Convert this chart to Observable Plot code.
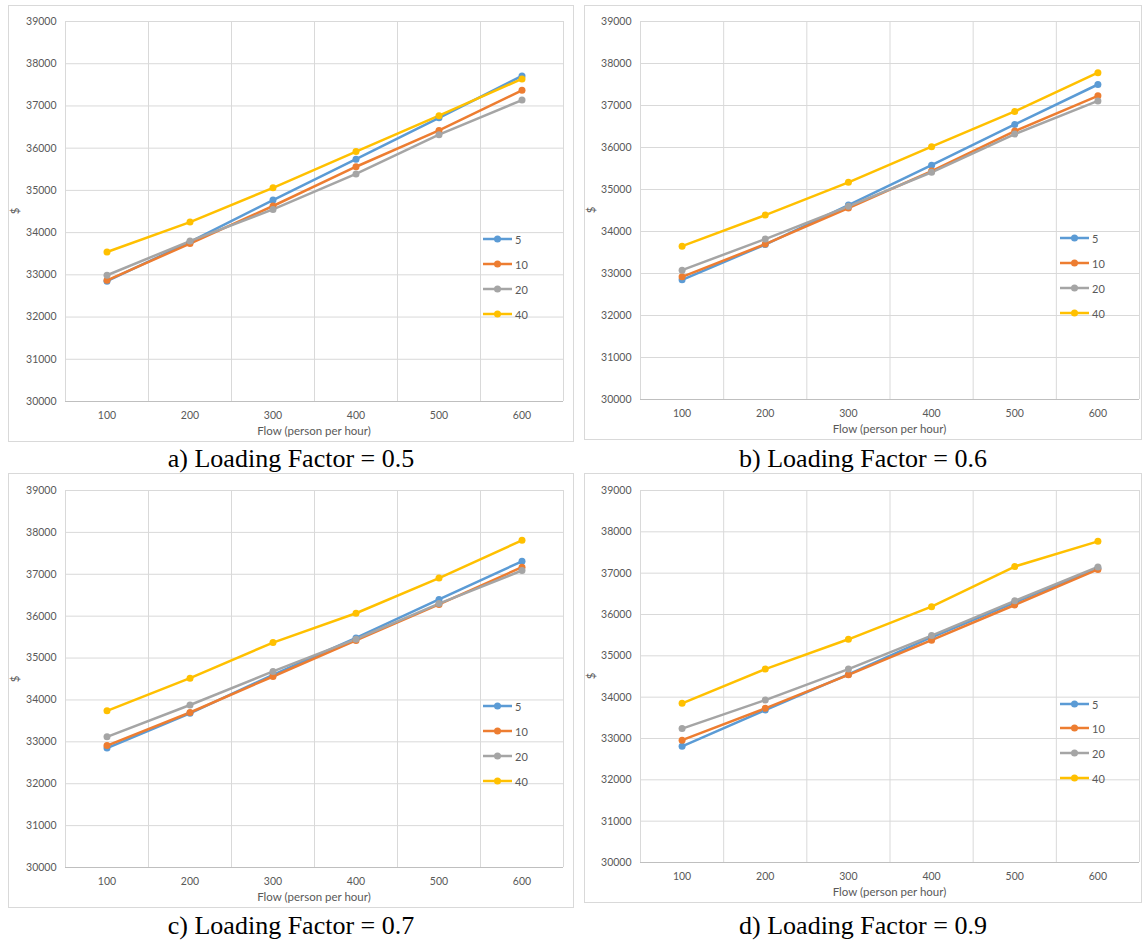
<!DOCTYPE html>
<html>
<head>
<meta charset="utf-8">
<script src="https://cdn.jsdelivr.net/npm/d3@7"></script>
<script src="https://cdn.jsdelivr.net/npm/@observablehq/plot@0.6"></script>
<style>
  html, body { margin: 0; padding: 0; background: #fff; }
  #page { position: relative; width: 1143px; height: 941px; background: #fff; overflow: hidden; }
  .panel { position: absolute; }
  .frame { position: absolute; left: 0; top: 0; right: 0; bottom: 0; border: 1px solid #d9d9d9; box-sizing: border-box; }
  .panel svg.plot { position: absolute; left: 0; top: 0; }
  .lbl { position: absolute; font-family: Lato, "Open Sans", sans-serif; font-size: 11.5px; color: #595959; white-space: nowrap; line-height: 1; }
  .cap { position: absolute; font-family: "Liberation Serif", "DejaVu Serif", serif; font-size: 26px; color: #000; white-space: nowrap; line-height: 1; transform: translate(-50%, -50%); }
  .leg { position: absolute; display: flex; align-items: center; font-family: Lato, "Open Sans", sans-serif; font-size: 11px; color: #595959; line-height: 1; }
</style>
</head>
<body>
<div id="page"></div>
<script>
// ---- data ----
const flows = [100, 200, 300, 400, 500, 600];
const seriesNames = ["5", "10", "20", "40"];
const seriesColors = ["#5B9BD5", "#ED7D31", "#A5A5A5", "#FFC000"];
const yTicks = [30000, 31000, 32000, 33000, 34000, 35000, 36000, 37000, 38000, 39000];
const captions = ["a) Loading Factor = 0.5", "b) Loading Factor = 0.6", "c) Loading Factor = 0.7", "d) Loading Factor = 0.9"];
const xTitle = "Flow (person per hour)";
const yTitle = "$";

// Loading factor 0.5
const a5  = [32850, 33780, 34770, 35740, 36720, 37710];
const a10 = [32870, 33740, 34630, 35560, 36420, 37370];
const a20 = [32990, 33800, 34550, 35390, 36320, 37140];
const a40 = [33540, 34250, 35060, 35920, 36770, 37640];
// Loading factor 0.6
const b5  = [32850, 33690, 34630, 35580, 36550, 37500];
const b10 = [32920, 33700, 34560, 35440, 36390, 37230];
const b20 = [33080, 33820, 34600, 35410, 36320, 37110];
const b40 = [33650, 34390, 35170, 36020, 36860, 37780];
// Loading factor 0.7
const c5  = [32850, 33680, 34600, 35480, 36400, 37310];
const c10 = [32910, 33700, 34560, 35420, 36280, 37170];
const c20 = [33120, 33880, 34680, 35450, 36300, 37090];
const c40 = [33740, 34520, 35370, 36070, 36910, 37810];
// Loading factor 0.9
const d5  = [32810, 33690, 34550, 35450, 36290, 37120];
const d10 = [32960, 33730, 34540, 35380, 36230, 37090];
const d20 = [33240, 33930, 34680, 35490, 36330, 37150];
const d40 = [33850, 34680, 35400, 36190, 37160, 37770];

const panelSeries = [[a5, a10, a20, a40], [b5, b10, b20, b40], [c5, c10, c20, c40], [d5, d10, d20, d40]];

// ---- layout (pixels) ----
const layouts = [
  {left: 8,   top: 5,   w: 566, h: 437, ml: 57, mr: 11, mt: 16, mb: 41, capY: 459, legX: 483,  legY: [239, 264, 289, 314]},
  {left: 584, top: 5,   w: 558, h: 435, ml: 56, mr: 3,  mt: 16, mb: 41, capY: 459, legX: 1060, legY: [238, 263, 288, 313]},
  {left: 8,   top: 473, w: 566, h: 435, ml: 57, mr: 11, mt: 17, mb: 41, capY: 926, legX: 483,  legY: [706, 731, 756, 781]},
  {left: 584, top: 473, w: 558, h: 430, ml: 56, mr: 3,  mt: 17, mb: 41, capY: 926, legX: 1060, legY: [704, 728, 753, 778]}
];

// category boundaries (Excel category axis: gridlines between categories)
const bounds = [50, 150, 250, 350, 450, 550, 650];

const page = document.getElementById("page");

panelSeries.forEach((ser, i) => {
  const L = layouts[i];
  const rows = [];
  ser.forEach((vals, s) => vals.forEach((v, k) => rows.push({flow: flows[k], cost: v, series: seriesNames[s]})));

  const panel = document.createElement("div");
  panel.className = "panel";
  Object.assign(panel.style, {left: L.left + "px", top: L.top + "px", width: L.w + "px", height: L.h + "px"});
  const frame = document.createElement("div");
  frame.className = "frame";
  panel.appendChild(frame);

  const chart = Plot.plot({
    width: L.w,
    height: L.h,
    marginLeft: L.ml,
    marginRight: L.mr,
    marginTop: L.mt,
    marginBottom: L.mb,
    style: {fontFamily: "Lato, 'Open Sans', sans-serif", fontSize: "10.5px", color: "#595959", background: "transparent", overflow: "visible"},
    x: {domain: [50, 650], ticks: flows, tickSize: 0, tickPadding: 10, tickFormat: d => String(d), label: null},
    y: {domain: [30000, 39000], ticks: yTicks, tickSize: 0, tickPadding: 9, tickFormat: d => String(d), label: null},
    color: {domain: seriesNames, range: seriesColors},
    marks: [
      Plot.ruleY(yTicks.slice(1), {stroke: "#d9d9d9", strokeWidth: 1}),
      Plot.ruleX(bounds, {stroke: "#d9d9d9", strokeWidth: 1}),
      Plot.ruleY([30000], {stroke: "#bfbfbf", strokeWidth: 1}),
      Plot.line(rows, {x: "flow", y: "cost", z: "series", stroke: "series", strokeWidth: 2.5}),
      Plot.dot(rows, {x: "flow", y: "cost", fill: "series", r: 3.5})
    ]
  });
  chart.classList.add("plot");
  panel.appendChild(chart);
  page.appendChild(panel);

  // axis titles
  const plotCx = L.left + L.ml + (L.w - L.ml - L.mr) / 2;
  const plotBottom = L.top + L.h - L.mb;
  const xt = document.createElement("div");
  xt.className = "lbl";
  xt.textContent = xTitle;
  Object.assign(xt.style, {left: plotCx + "px", top: (plotBottom + 30) + "px", transform: "translate(-50%, -50%)"});
  page.appendChild(xt);

  const yt = document.createElement("div");
  yt.className = "lbl";
  yt.textContent = yTitle;
  const plotCy = L.top + L.mt + (L.h - L.mt - L.mb) / 2;
  Object.assign(yt.style, {left: (L.left + 7) + "px", top: plotCy + "px", transform: "translate(-50%, -50%) rotate(-90deg)"});
  page.appendChild(yt);

  // legend
  seriesNames.forEach((name, s) => {
    const row = document.createElement("div");
    row.className = "leg";
    Object.assign(row.style, {left: L.legX + "px", top: (L.legY[s] - 7) + "px", height: "14px"});
    const ns = "http://www.w3.org/2000/svg";
    const sv = document.createElementNS(ns, "svg");
    sv.setAttribute("width", 30); sv.setAttribute("height", 14);
    const ln = document.createElementNS(ns, "line");
    ln.setAttribute("x1", 0); ln.setAttribute("x2", 29); ln.setAttribute("y1", 7); ln.setAttribute("y2", 7);
    ln.setAttribute("stroke", seriesColors[s]); ln.setAttribute("stroke-width", 2.5);
    const c = document.createElementNS(ns, "circle");
    c.setAttribute("cx", 14.5); c.setAttribute("cy", 7); c.setAttribute("r", 3.5); c.setAttribute("fill", seriesColors[s]);
    sv.appendChild(ln); sv.appendChild(c);
    row.appendChild(sv);
    const t = document.createElement("span");
    t.textContent = name;
    t.style.marginLeft = "2px";
    row.appendChild(t);
    page.appendChild(row);
  });

  // caption
  const cap = document.createElement("div");
  cap.className = "cap";
  cap.textContent = captions[i];
  Object.assign(cap.style, {left: (L.left + L.w / 2) + "px", top: L.capY + "px"});
  page.appendChild(cap);
});
</script>
</body>
</html>
